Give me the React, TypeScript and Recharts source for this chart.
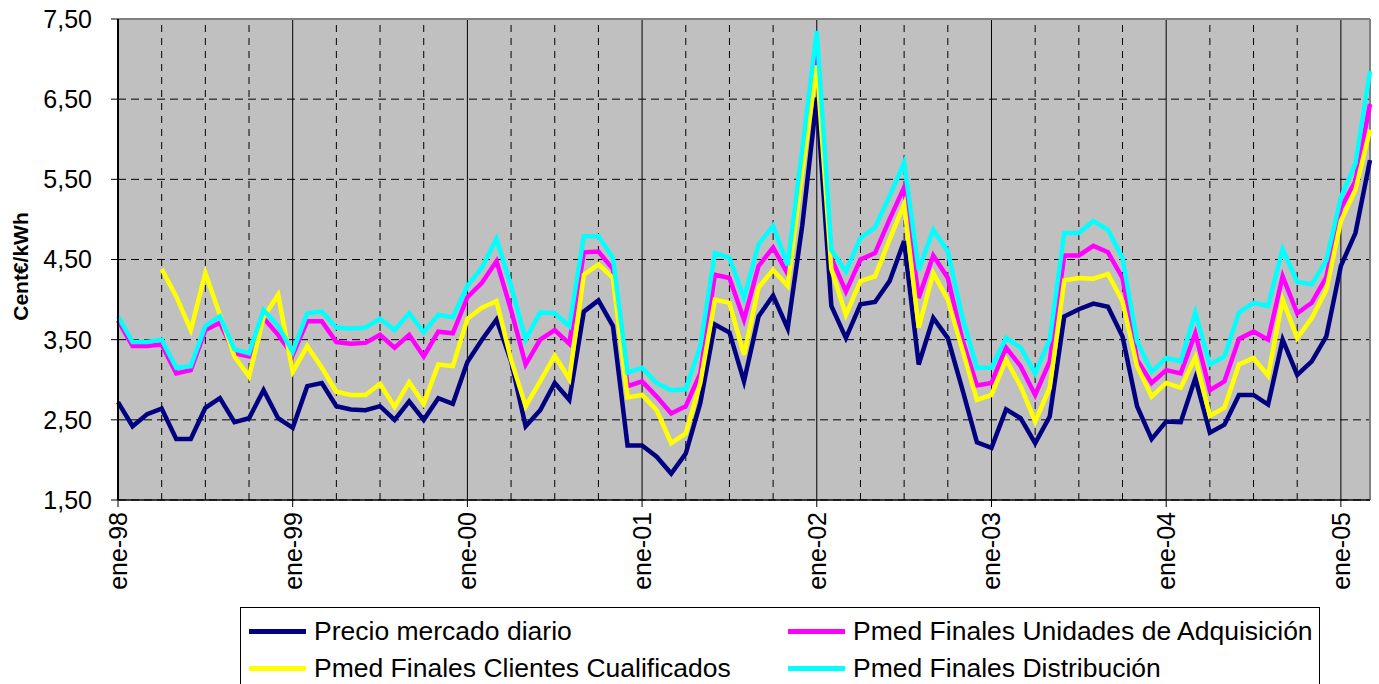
import React from 'react';
import { CartesianGrid, Legend, Line, LineChart, ReferenceLine, XAxis, YAxis } from 'recharts';

// monthly values, ene-98 .. mar-05 (Cent€/kWh)
const precioMercado = [
  2.72, 2.42, 2.57, 2.64, 2.26, 2.26, 2.65, 2.77, 2.47, 2.52, 2.87, 2.52,
  2.4, 2.92, 2.96, 2.67, 2.63, 2.62, 2.67, 2.5, 2.73, 2.5, 2.77, 2.7,
  3.22, 3.5, 3.75, 3.23, 2.42, 2.62, 2.96, 2.75, 3.85, 3.99, 3.67, 2.18,
  2.18, 2.04, 1.83, 2.08, 2.71, 3.69, 3.59, 2.98, 3.79, 4.05, 3.64, 4.92,
  6.52, 3.92, 3.52, 3.94, 3.97, 4.23, 4.73, 3.19, 3.77, 3.52, 2.88, 2.22,
  2.15, 2.63, 2.52, 2.21, 2.54, 3.79, 3.88, 3.95, 3.91, 3.54, 2.67, 2.26,
  2.48, 2.47, 3.02, 2.34, 2.44, 2.81, 2.81, 2.69, 3.5, 3.06, 3.23, 3.54,
  4.42, 4.83, 5.74,
];

const unidadesAdquisicion = [
  3.74, 3.42, 3.42, 3.44, 3.08, 3.12, 3.62, 3.71, 3.33, 3.29, 3.77, 3.56,
  3.31, 3.73, 3.73, 3.47, 3.45, 3.46, 3.56, 3.4, 3.56, 3.29, 3.6, 3.58,
  4.03, 4.21, 4.48, 3.87, 3.19, 3.5, 3.62, 3.45, 4.59, 4.6, 4.38, 2.92,
  2.98, 2.79, 2.58, 2.67, 3.08, 4.31, 4.27, 3.75, 4.42, 4.65, 4.32, 5.75,
  7.05, 4.52, 4.1, 4.5, 4.58, 5.0, 5.4, 4.02, 4.55, 4.27, 3.5, 2.93,
  2.96, 3.4, 3.17, 2.81, 3.23, 4.55, 4.55, 4.67, 4.59, 4.27, 3.25, 2.96,
  3.12, 3.08, 3.58, 2.87, 2.98, 3.51, 3.6, 3.5, 4.29, 3.83, 3.96, 4.28,
  5.14, 5.48, 6.44,
];

const clientesCualificados = [
  null, null, null, 4.38, 4.04, 3.62, 4.33, 3.81, 3.29, 3.04, 3.78, 4.06,
  3.1, 3.42, 3.15, 2.85, 2.81, 2.81, 2.95, 2.66, 2.97, 2.7, 3.19, 3.17,
  3.76, 3.9, 3.98, 3.25, 2.67, 2.98, 3.3, 3.01, 4.31, 4.44, 4.27, 2.78,
  2.81, 2.62, 2.21, 2.33, 2.96, 4.0, 3.96, 3.31, 4.15, 4.37, 4.17, 5.6,
  6.92, 4.38, 3.81, 4.23, 4.29, 4.75, 5.19, 3.65, 4.33, 4.0, 3.38, 2.75,
  2.81, 3.25, 2.92, 2.48, 2.9, 4.24, 4.27, 4.26, 4.32, 3.98, 3.17, 2.79,
  2.96, 2.9, 3.28, 2.55, 2.65, 3.19, 3.27, 3.05, 4.0, 3.52, 3.77, 4.12,
  4.98, 5.37, 6.12,
];

const distribucion = [
  3.79, 3.47, 3.47, 3.5, 3.15, 3.17, 3.67, 3.79, 3.38, 3.33, 3.87, 3.67,
  3.35, 3.83, 3.85, 3.65, 3.64, 3.65, 3.76, 3.62, 3.83, 3.59, 3.81, 3.78,
  4.17, 4.4, 4.76, 4.17, 3.5, 3.84, 3.83, 3.67, 4.79, 4.79, 4.52, 3.09,
  3.15, 2.96, 2.87, 2.88, 3.42, 4.58, 4.52, 4.02, 4.69, 4.92, 4.43, 5.87,
  7.35, 4.62, 4.35, 4.77, 4.9, 5.29, 5.71, 4.37, 4.87, 4.6, 3.78, 3.15,
  3.15, 3.52, 3.4, 3.08, 3.5, 4.83, 4.83, 4.98, 4.87, 4.52, 3.48, 3.1,
  3.27, 3.23, 3.84, 3.19, 3.29, 3.84, 3.96, 3.92, 4.63, 4.22, 4.19, 4.49,
  5.27, 5.7, 6.85,
];

const yearTicks = [0, 12, 24, 36, 48, 60, 72, 84];
const yearLabels = ['ene-98', 'ene-99', 'ene-00', 'ene-01', 'ene-02', 'ene-03', 'ene-04', 'ene-05'];
const yTicks = [1.5, 2.5, 3.5, 4.5, 5.5, 6.5, 7.5];

const series = [
  { key: 'precio', name: 'Precio mercado diario', color: '#000080', values: precioMercado },
  { key: 'unidades', name: 'Pmed Finales Unidades de Adquisición', color: '#FF00FF', values: unidadesAdquisicion },
  { key: 'clientes', name: 'Pmed Finales Clientes Cualificados', color: '#FFFF00', values: clientesCualificados },
  { key: 'distribucion', name: 'Pmed Finales Distribución', color: '#00FFFF', values: distribucion },
];

const data = precioMercado.map((_, i) => {
  const row: Record<string, number | null> = { m: i };
  series.forEach((s) => (row[s.key] = s.values[i]));
  return row;
});

const lastIdx = data.length - 1;
const quarterLines: number[] = [];
for (let i = 3; i < lastIdx; i += 3) if (i % 12 !== 0) quarterLines.push(i);

const FONT = '"Liberation Sans", Arial, sans-serif';

function YearTick({ x, y, payload }: any) {
  const idx = yearTicks.indexOf(payload.value);
  return (
    <g transform={`translate(${x},${y + 3})`}>
      <text transform="rotate(-90)" textAnchor="end" dy="0.36em" fontSize={25} fill="#000" fontFamily={FONT}>
        {yearLabels[idx]}
      </text>
    </g>
  );
}

// legend order in the box: row 1 = precio, unidades ; row 2 = clientes, distribucion
function LegendBox() {
  const pos = [
    { left: 8, top: 23 },
    { left: 547, top: 23 },
    { left: 8, top: 60 },
    { left: 547, top: 60 },
  ];
  return (
    <div style={{ position: 'relative', width: 1080, height: 90, border: '1px solid #000', background: '#fff', boxSizing: 'border-box', fontFamily: FONT }}>
      {series.map((s, i) => (
        <div key={s.key} style={{ position: 'absolute', left: pos[i].left, top: pos[i].top, transform: 'translateY(-50%)', display: 'flex', alignItems: 'center', whiteSpace: 'nowrap' }}>
          <div style={{ width: 57, height: 5, background: s.color, marginRight: 8 }} />
          <span style={{ fontSize: 26.5, color: '#000', lineHeight: '30px' }}>{s.name}</span>
        </div>
      ))}
    </div>
  );
}

export default function App() {
  return (
    <div style={{ position: 'absolute', left: 0, top: 0, width: 1379, height: 684, overflow: 'hidden', background: '#fff' }}>
      <LineChart width={1379} height={684} data={data} margin={{ top: 19, right: 9, left: 0, bottom: 0 }}>
        <CartesianGrid vertical={false} fill="#C0C0C0" stroke="#000" strokeDasharray="8 5" />
        {quarterLines.map((q) => (
          <ReferenceLine key={q} x={q} stroke="#000" strokeDasharray="7 6" strokeWidth={1} />
        ))}
        {yearTicks.slice(1).map((t) => (
          <ReferenceLine key={t} x={t} stroke="#000" strokeWidth={1} />
        ))}
        <ReferenceLine y={7.5} stroke="#808080" strokeWidth={2} />
        <ReferenceLine x={lastIdx} stroke="#808080" strokeWidth={2} />
        <XAxis
          dataKey="m"
          type="number"
          domain={[0, lastIdx]}
          ticks={yearTicks}
          interval={0}
          height={184}
          tick={<YearTick />}
          tickSize={7}
          stroke="#000"
          axisLine={{ stroke: '#000', strokeWidth: 1.5 }}
        />
        <YAxis
          domain={[1.5, 7.5]}
          ticks={yTicks}
          interval={0}
          width={118}
          tickSize={7}
          tickMargin={19}
          stroke="#000"
          axisLine={{ stroke: '#000', strokeWidth: 2 }}
          tick={{ fontSize: 25, fill: '#000', fontFamily: FONT }}
          tickFormatter={(v: number) => v.toFixed(2).replace('.', ',')}
          label={{
            content: ({ viewBox }: any) => {
              const cy = viewBox.y + viewBox.height / 2 + 7;
              return (
                <text x={28} y={cy} transform={`rotate(-90, 28, ${cy})`} textAnchor="middle" fontSize={21} fontWeight="bold" fill="#000" fontFamily={FONT}>
                  Cent€/kWh
                </text>
              );
            },
          }}
        />
        {series.map((s) => (
          <Line
            key={s.key}
            type="linear"
            dataKey={s.key}
            name={s.name}
            stroke={s.color}
            strokeWidth={4.5}
            dot={false}
            activeDot={false}
            isAnimationActive={false}
            connectNulls={false}
          />
        ))}
        <Legend
          layout="horizontal"
          verticalAlign="middle"
          align="center"
          wrapperStyle={{ position: 'absolute', left: 240, top: 607, width: 1080, height: 90 }}
          content={() => <LegendBox />}
        />
      </LineChart>
    </div>
  );
}
